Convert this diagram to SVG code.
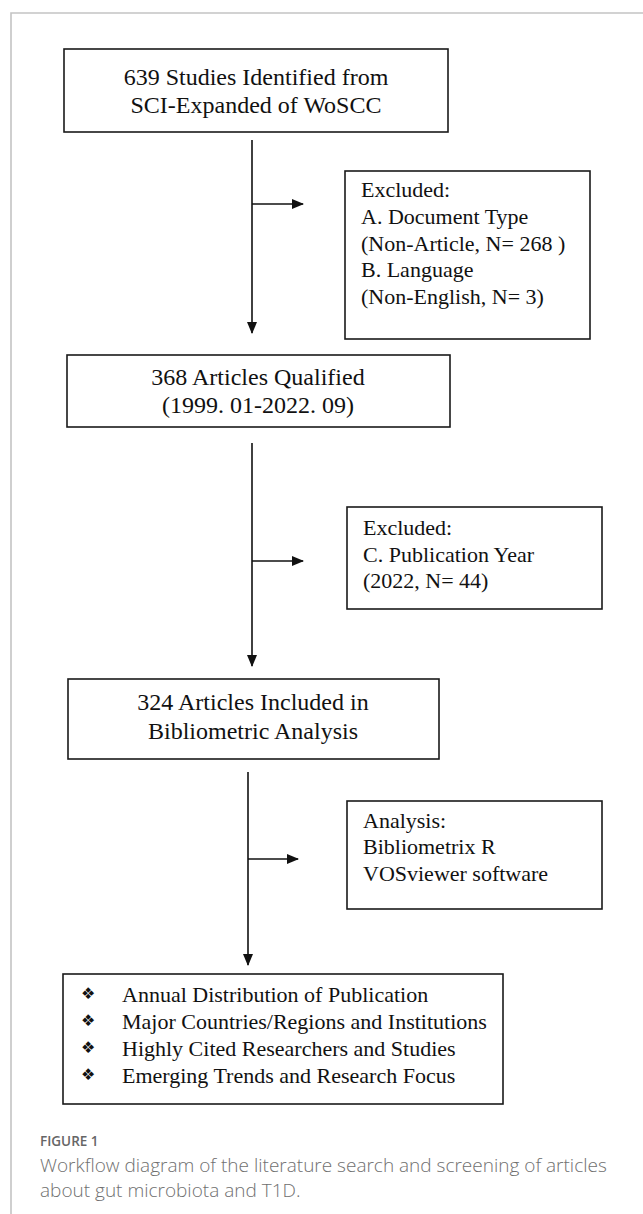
<svg xmlns="http://www.w3.org/2000/svg" width="643" height="1214" viewBox="0 0 643 1214">
<defs>
<style>
.box{fill:#fff;stroke:#1a1a1a;stroke-width:1.6}
.t{font-family:"Liberation Serif","Times New Roman",serif;font-size:22px;fill:#111}
.tc{font-family:"Liberation Serif","Times New Roman",serif;font-size:24px;fill:#111;text-anchor:middle}
.bul{font-family:"DejaVu Sans",sans-serif;font-size:16px;fill:#111}
.ln{stroke:#111;stroke-width:1.6;fill:none}
.cap{font-family:"Open Sans","Liberation Sans",sans-serif;font-size:19px;fill:#707070;font-weight:300}
.fig{font-family:"Open Sans","Liberation Sans",sans-serif;font-size:13.5px;fill:#666;font-weight:600}
</style>
<marker id="ah" markerWidth="12" markerHeight="10" refX="11" refY="5" orient="auto" markerUnits="userSpaceOnUse">
<path d="M0,0 L12,5 L0,10 Z" fill="#111"/>
</marker>
</defs>
<rect width="643" height="1214" fill="#fff"/>
<g id="frame">
<path d="M11,1214 V13 H643" fill="none" stroke="#c4c4c4" stroke-width="1.6"/>
</g>
<g id="connectors">
<line class="ln" x1="252" y1="140" x2="252" y2="333" marker-end="url(#ah)"/>
<line class="ln" x1="252" y1="204" x2="303" y2="204" marker-end="url(#ah)"/>
<line class="ln" x1="252" y1="443" x2="252" y2="666" marker-end="url(#ah)"/>
<line class="ln" x1="252" y1="561" x2="303" y2="561" marker-end="url(#ah)"/>
<line class="ln" x1="248" y1="772" x2="248" y2="965" marker-end="url(#ah)"/>
<line class="ln" x1="248" y1="859" x2="298" y2="859" marker-end="url(#ah)"/>
</g>
<g id="n1">
<rect class="box" x="64" y="49" width="384" height="83"/>
<text class="tc" x="256" y="85">639 Studies Identified from</text>
<text class="tc" x="256" y="113">SCI-Expanded of WoSCC</text>
</g>
<g id="n2">
<rect class="box" x="345" y="171" width="245" height="168"/>
<text class="t" x="361" y="197">Excluded:</text>
<text class="t" x="361" y="224">A. Document Type</text>
<text class="t" x="361" y="251">(Non-Article, N= 268 )</text>
<text class="t" x="361" y="277">B. Language</text>
<text class="t" x="361" y="304">(Non-English, N= 3)</text>
</g>
<g id="n3">
<rect class="box" x="67" y="355" width="383" height="72"/>
<text class="tc" x="258" y="385">368 Articles Qualified</text>
<text class="tc" x="258" y="413">(1999. 01-2022. 09)</text>
</g>
<g id="n4">
<rect class="box" x="347" y="507" width="255" height="102"/>
<text class="t" x="363" y="535">Excluded:</text>
<text class="t" x="363" y="562">C. Publication Year</text>
<text class="t" x="363" y="588">(2022, N= 44)</text>
</g>
<g id="n5">
<rect class="box" x="68" y="679" width="371" height="80"/>
<text class="tc" x="253" y="710">324 Articles Included in</text>
<text class="tc" x="253" y="739">Bibliometric Analysis</text>
</g>
<g id="n6">
<rect class="box" x="347" y="801" width="255" height="108"/>
<text class="t" x="363" y="828">Analysis:</text>
<text class="t" x="363" y="854">Bibliometrix R</text>
<text class="t" x="363" y="881">VOSviewer software</text>
</g>
<g id="n7">
<rect class="box" x="63" y="974" width="440" height="130"/>
<text class="bul" x="81" y="999">❖</text>
<text class="t" x="122" y="1002">Annual Distribution of Publication</text>
<text class="bul" x="81" y="1026">❖</text>
<text class="t" x="122" y="1029">Major Countries/Regions and Institutions</text>
<text class="bul" x="81" y="1053">❖</text>
<text class="t" x="122" y="1056">Highly Cited Researchers and Studies</text>
<text class="bul" x="81" y="1080">❖</text>
<text class="t" x="122" y="1083">Emerging Trends and Research Focus</text>
</g>
<g id="caption">
<text class="fig" x="40" y="1146">FIGURE 1</text>
<text class="cap" x="40" y="1172">Workflow diagram of the literature search and screening of articles</text>
<text class="cap" x="40" y="1197">about gut microbiota and T1D.</text>
</g>
</svg>
